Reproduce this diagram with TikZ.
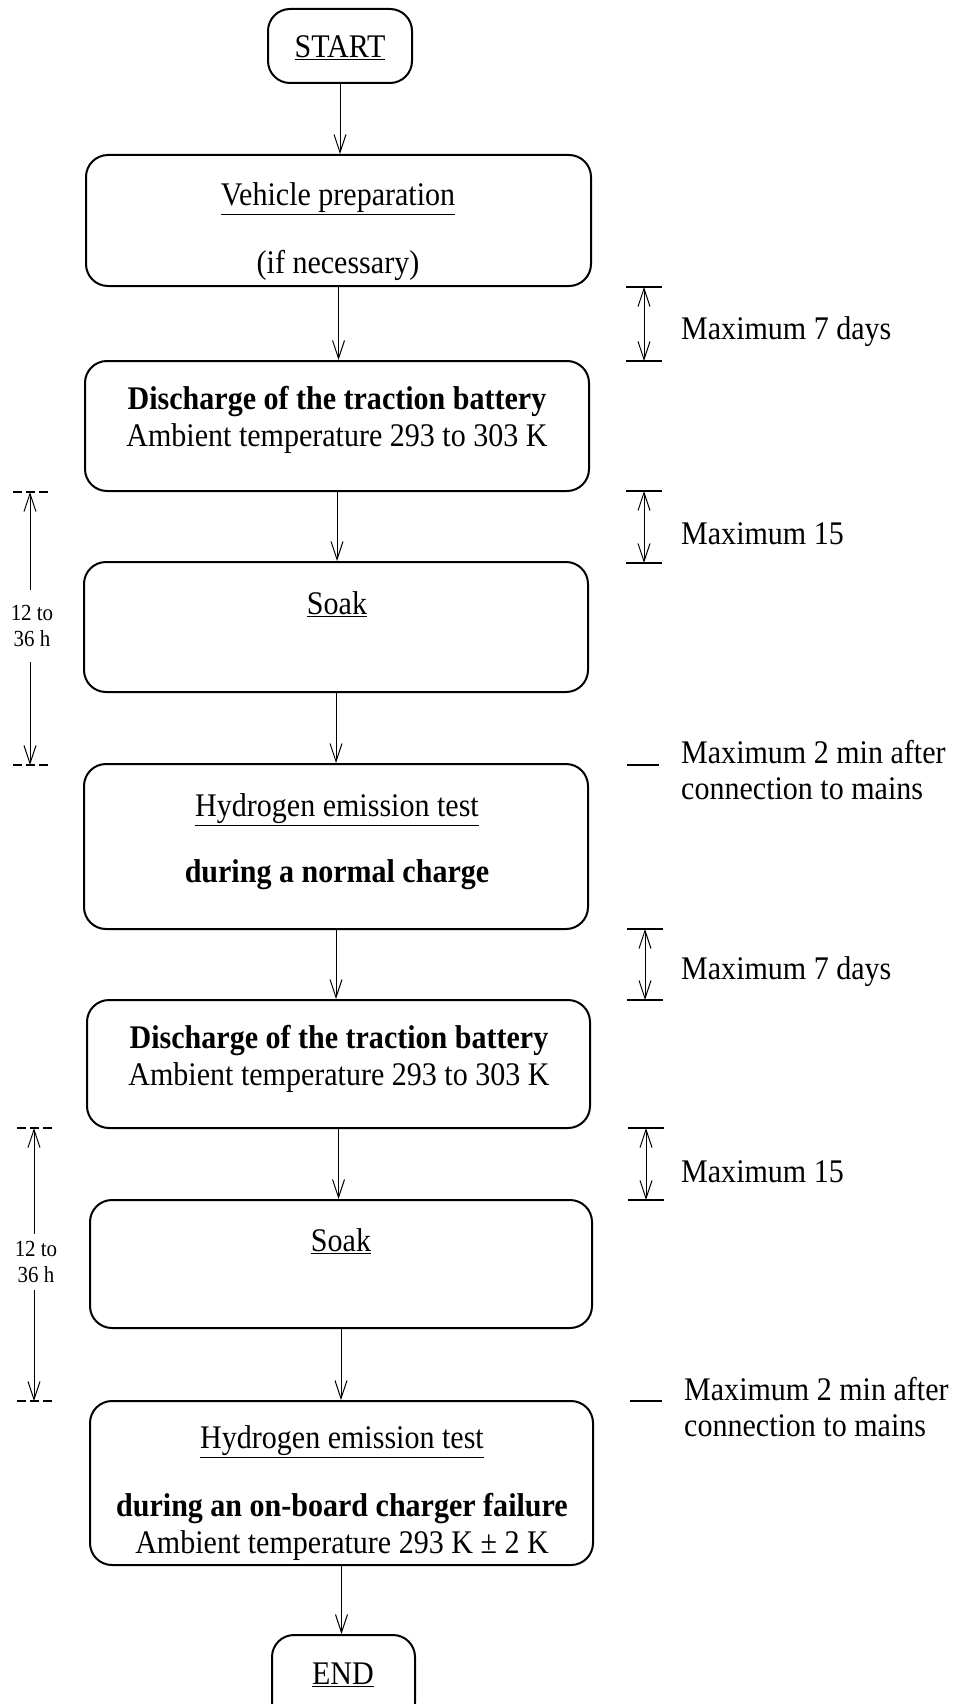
\documentclass[tikz,border=0pt]{standalone}
\usepackage{fontspec}
\setmainfont{Liberation Serif}[FakeStretch=0.91]
\usetikzlibrary{arrows.meta}
\begin{document}
\begin{tikzpicture}[x=1pt,y=-1pt,
  box/.style={draw, line width=2pt, rounded corners=22pt, inner sep=0pt},
  txt/.style={font=\fontsize{33}{36}\selectfont, inner sep=0pt, anchor=center},
  sidetxt/.style={font=\fontsize{33}{36}\selectfont, inner sep=0pt, anchor=west, align=left},
  lefttxt/.style={font=\fontsize{23}{26}\selectfont, inner sep=1pt, align=center, fill=white},
  flow/.style={-{Straight Barb[length=18pt,width=12pt]}, line width=1pt},
  dim/.style={{Straight Barb[length=18pt,width=12pt]}-{Straight Barb[length=18pt,width=12pt]}, line width=1pt},
  tick/.style={line width=1.8pt},
  ltick/.style={line width=1.4pt, dash pattern=on 9pt off 4pt}]
\useasboundingbox (0,0) rectangle (963,1704);

% boxes
\node[box, minimum width=144pt, minimum height=74pt] (start) at (340,46) {};
\node[box, minimum width=505pt, minimum height=131pt] (vp) at (338.5,220.5) {};
\node[box, minimum width=504pt, minimum height=130pt] (d1) at (337,426) {};
\node[box, minimum width=504pt, minimum height=130pt] (s1) at (336,627) {};
\node[box, minimum width=504pt, minimum height=165pt] (h1) at (336,846.5) {};
\node[box, minimum width=503pt, minimum height=128pt] (d2) at (338.5,1064) {};
\node[box, minimum width=502pt, minimum height=128pt] (s2) at (341,1264) {};
\node[box, minimum width=503pt, minimum height=164pt] (h2) at (341.5,1483) {};
\node[box, minimum width=143pt, minimum height=90pt] (end) at (343.5,1680) {};

% texts in boxes
\node[txt] (tstart) at (340,48) {\underline{START}};
\node[txt] (tvp1) at (338,199) {\underline{Vehicle preparation}};
\node[txt] (tvp2) at (338,265) {(if necessary)};
\node[txt] (td1a) at (337,402) {\textbf{Discharge of the traction battery}};
\node[txt] (td1b) at (337,439) {Ambient temperature 293 to 303 K};
\node[txt] (ts1) at (337,604) {\underline{Soak}};
\node[txt] (th1a) at (337,810) {\underline{Hydrogen emission test}};
\node[txt] (th1b) at (337,875) {\textbf{during a normal charge}};
\node[txt] (td2a) at (339,1041) {\textbf{Discharge of the traction battery}};
\node[txt] (td2b) at (339,1078) {Ambient temperature 293 to 303 K};
\node[txt] (ts2) at (341,1241) {\underline{Soak}};
\node[txt] (th2a) at (342,1442) {\underline{Hydrogen emission test}};
\node[txt] (th2b) at (342,1509) {\textbf{during an on-board charger failure}};
\node[txt] (th2c) at (342,1546) {Ambient temperature 293 K ± 2 K};
\node[txt] (tend) at (343,1675) {\underline{END}};

% flow arrows
\draw[flow] (start.south) -- (start.south |- vp.north);
\draw[flow] (vp.south) -- (vp.south |- d1.north);
\draw[flow] (d1.south) -- (d1.south |- s1.north);
\draw[flow] (s1.south) -- (s1.south |- h1.north);
\draw[flow] (h1.south) -- (h1.south |- d2.north);
\draw[flow] (d2.south) -- (d2.south |- s2.north);
\draw[flow] (s2.south) -- (s2.south |- h2.north);
\draw[flow] (h2.south) -- (h2.south |- end.north);

% right dimension markers
\coordinate (r1t) at (644,287); \coordinate (r1b) at (644,361);
\coordinate (r2t) at (644,491); \coordinate (r2b) at (644,563);
\coordinate (r3) at (643,765);
\coordinate (r4t) at (645,929); \coordinate (r4b) at (645,1000);
\coordinate (r5t) at (646,1128); \coordinate (r5b) at (646,1200);
\coordinate (r6) at (646,1401);

\foreach \a/\b in {r1t/r1b, r2t/r2b, r4t/r4b, r5t/r5b}{
  \draw[dim] (\a) -- (\b);
  \draw[tick] ([xshift=-18pt]\a) -- ([xshift=18pt]\a);
  \draw[tick] ([xshift=-18pt]\b) -- ([xshift=18pt]\b);
}
\draw[tick] ([xshift=-16pt]r3) -- ([xshift=16pt]r3);
\draw[tick] ([xshift=-16pt]r6) -- ([xshift=16pt]r6);

\node[sidetxt] (m1) at (681,332) {Maximum 7 days};
\node[sidetxt] (m2) at (681,534) {Maximum 15};
\node[sidetxt] (m3) at (681,770) {Maximum 2 min after\\connection to mains};
\node[sidetxt] (m4) at (681,972) {Maximum 7 days};
\node[sidetxt] (m5) at (681,1172) {Maximum 15};
\node[sidetxt] (m6) at (684,1407) {Maximum 2 min after\\connection to mains};

% left dimension markers
\coordinate (l1t) at (30,492); \coordinate (l1b) at (30,765);
\coordinate (l2t) at (34,1128); \coordinate (l2b) at (34,1401);
\draw[dim] (l1t) -- (l1b);
\draw[dim] (l2t) -- (l2b);
\draw[ltick] ([xshift=-17pt]l1t) -- ([xshift=18pt]l1t);
\draw[ltick] ([xshift=-17pt]l1b) -- ([xshift=18pt]l1b);
\draw[ltick] ([xshift=-17pt]l2t) -- ([xshift=18pt]l2t);
\draw[ltick] ([xshift=-17pt]l2b) -- ([xshift=18pt]l2b);
\node[lefttxt, minimum height=72pt] (lt1) at (32,626) {12 to\\36 h};
\node[lefttxt, minimum height=56pt] (lt2) at (36,1262) {12 to\\36 h};
\end{tikzpicture}
\end{document}
